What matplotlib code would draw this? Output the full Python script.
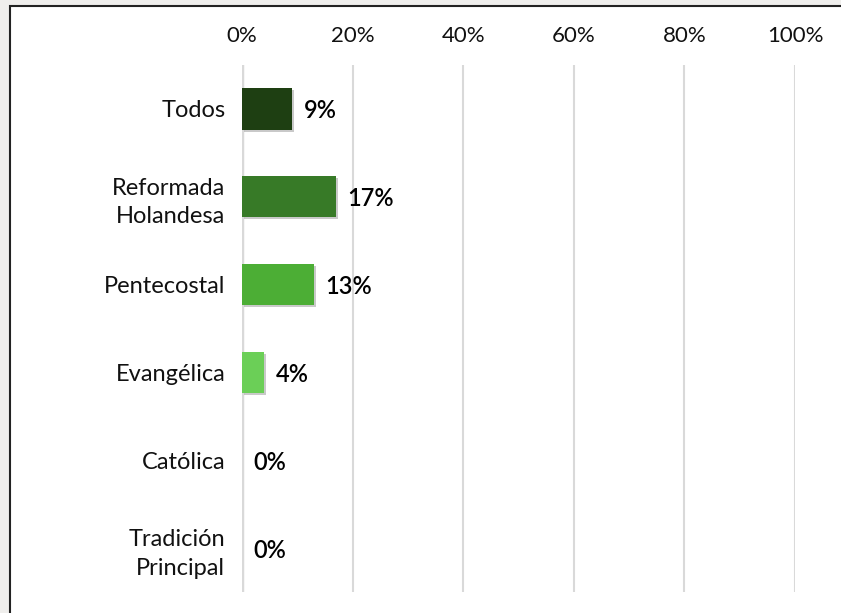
import matplotlib.pyplot as plt
import matplotlib.patheffects as pe
from matplotlib.patches import Rectangle

categories = ['Todos', 'Reformada\nHolandesa', 'Pentecostal', 'Evangélica', 'Católica', 'Tradición\nPrincipal']
values = [9, 17, 13, 4, 0, 0]
colors = ['#1e3f12', '#377a27', '#4cae35', '#6bcf57', '#6bcf57', '#6bcf57']
ticks = [0, 20, 40, 60, 80, 100]

plt.rcParams['font.family'] = ['Lato', 'DejaVu Sans']

fig = plt.figure(figsize=(8.41, 6.13), dpi=100)
fig.patch.set_facecolor('#efeeec')

# white panel with black border (own background axes, drawn first)
bg = fig.add_axes([0, 0, 1, 1], zorder=-1)
bg.set_axis_off()
bg.set_xlim(0, 841)
bg.set_ylim(613, 0)
bg.add_patch(Rectangle((10, 6), 900, 700, facecolor='white', edgecolor='#222222', linewidth=1.5))

ax = fig.add_axes([242 / 841, 1 - 592 / 613, (795 - 242) / 841, 527 / 613])
ax.set_facecolor('none')

y = list(range(len(categories)))
bars = ax.barh(y, values, height=0.47, color=colors, zorder=3)
for b, v in zip(bars, values):
    if v > 0:
        b.set_path_effects([pe.SimplePatchShadow(offset=(1.5, -1.5), shadow_rgbFace='#666666', alpha=0.35),
                            pe.Normal()])
    ax.text(v + 2.1, b.get_y() + b.get_height() / 2, f'{v}%', va='center_baseline', ha='left',
            fontsize=17, color='black', fontweight='semibold', zorder=4)

ax.set_xlim(0, 100)
ax.set_ylim(len(categories) - 0.5, -0.5)
ax.set_xticks(ticks)
ax.set_xticklabels([f'{t}%' for t in ticks])
ax.xaxis.tick_top()
ax.tick_params(axis='x', length=0, pad=14, labelsize=16, labelcolor='#111111')
ax.set_yticks(y)
ax.set_yticklabels(categories, ha='right', linespacing=1.45)
ax.tick_params(axis='y', length=0, pad=12, labelsize=17, labelcolor='#111111')

for t in ticks:
    ax.axvline(t, color='#d9d9d9', linewidth=2.5 if t == 0 else 1.5, zorder=1)
for s in ax.spines.values():
    s.set_visible(False)

fig.savefig('out.png', dpi=100, facecolor=fig.get_facecolor())
